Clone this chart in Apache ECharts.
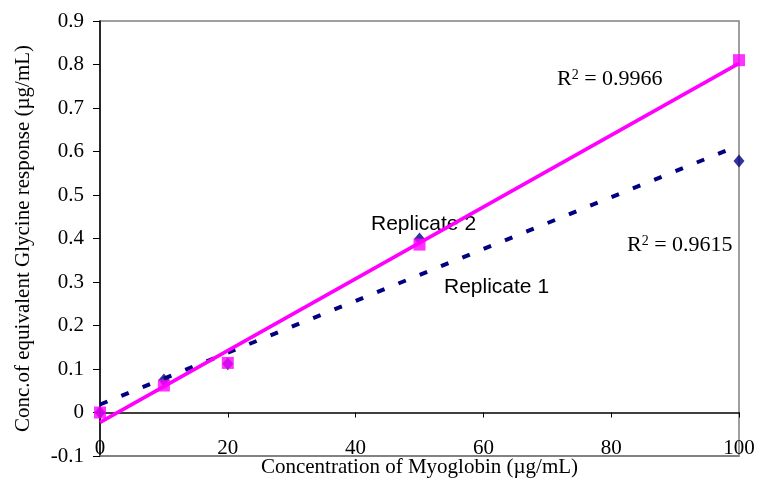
<!DOCTYPE html>
<html>
<head>
<meta charset="utf-8">
<script src="https://cdn.jsdelivr.net/npm/echarts@6/dist/echarts.min.js"></script>
<style>
  html, body { margin: 0; padding: 0; background: #fff; }
  #chart { width: 757px; height: 479px; }
</style>
</head>
<body>
<div id="chart"></div>
<script>
  // concentration of myoglobin (ug/mL)
  var concentrations = [0, 10, 20, 50, 100];
  // replicate responses (ug/mL glycine equivalent)
  var replicate1 = [0.0, 0.075, 0.112, 0.399, 0.578];
  var replicate2 = [0.0, 0.062, 0.114, 0.386, 0.810];
  var trendX = [0, 100];
  var yTicks = { min: -0.1, max: 0.9, step: 0.1 };
  var xTicks = { min: 0, max: 100, step: 20 };

  // least squares line, like the Excel trendline
  function fit(xs, ys) {
    var n = xs.length, mx = 0, my = 0;
    for (var i = 0; i < n; i++) { mx += xs[i]; my += ys[i]; }
    mx /= n; my /= n;
    var sxy = 0, sxx = 0;
    for (var j = 0; j < n; j++) {
      sxy += (xs[j] - mx) * (ys[j] - my);
      sxx += (xs[j] - mx) * (xs[j] - mx);
    }
    var slope = sxy / sxx;
    return { slope: slope, icpt: my - slope * mx };
  }
  function pairs(xs, ys) {
    return xs.map(function (x, i) { return [x, ys[i]]; });
  }
  function trend(xs, ys) {
    var f = fit(xs, ys);
    return trendX.map(function (x) { return [x, f.icpt + f.slope * x]; });
  }

  var serif = '"Liberation Serif", "Times New Roman", serif';
  var sans = '"Liberation Sans", Arial, sans-serif';
  var rSquared = {
    a: { fontFamily: serif, fontSize: 22, color: '#000' },
    s: { fontFamily: serif, fontSize: 14, color: '#000', verticalAlign: 'top' }
  };
  // only the lowest split line (the frame's bottom edge) is visible
  var frameColors = ['#808080'];
  for (var k = 1; k < 11; k++) frameColors.push('rgba(0,0,0,0)');

  var chart = echarts.init(document.getElementById('chart'));
  var option = {
    animation: false,
    backgroundColor: '#fff',
    grid: {
      left: 100, right: 18, top: 21, bottom: 23,
      outerBoundsMode: 'none',
      show: true, borderColor: '#808080', borderWidth: 1.5
    },
    xAxis: [{
      // labels and title sit low, like Excel's "low" label position
      type: 'value',
      position: 'bottom',
      min: xTicks.min, max: xTicks.max, interval: xTicks.step,
      name: 'Concentration of Myoglobin (\u00b5g/mL)',
      nameLocation: 'middle',
      nameGap: 1,
      nameMoveOverlap: false,
      nameTextStyle: { fontFamily: serif, fontSize: 21, color: '#000', verticalAlign: 'top' },
      axisLine: { show: true, onZero: false, lineStyle: { color: '#808080', width: 1.5 } },
      axisTick: { show: false },
      axisLabel: { inside: true, margin: -3, fontFamily: serif, fontSize: 21, color: '#000' },
      splitLine: { show: false }
    }, {
      // the zero line with its ticks
      type: 'value',
      position: 'bottom',
      min: xTicks.min, max: xTicks.max, interval: xTicks.step,
      axisLine: { show: true, onZero: true, onZeroAxisIndex: 0, lineStyle: { color: '#000', width: 1.5 } },
      axisTick: { show: true, length: 5, lineStyle: { color: '#000' } },
      axisLabel: { show: false },
      splitLine: { show: false }
    }],
    yAxis: {
      type: 'value',
      min: yTicks.min, max: yTicks.max, interval: yTicks.step,
      name: 'Conc.of equivalent Glycine response (\u00b5g/mL)',
      nameLocation: 'middle',
      nameGap: 66,
      nameTextStyle: { fontFamily: serif, fontSize: 21, color: '#000' },
      axisLine: { show: true, onZero: false, lineStyle: { color: '#000', width: 1.5 } },
      axisTick: { show: true, length: 7, lineStyle: { color: '#000' } },
      axisLabel: { margin: 16, fontFamily: serif, fontSize: 21, color: '#000' },
      splitLine: { show: true, showMinLine: true, lineStyle: { color: frameColors, width: 1.5 } }
    },
    graphic: [
      { type: 'text', left: 557, top: 68, style: { text: '{a|R}{s|2}{a| = 0.9966}', rich: rSquared } },
      { type: 'text', left: 627, top: 234, style: { text: '{a|R}{s|2}{a| = 0.9615}', rich: rSquared } },
      { type: 'text', left: 371, top: 214, style: { text: 'Replicate 2', font: '21px ' + sans, fill: '#000' } },
      { type: 'text', left: 444, top: 277, style: { text: 'Replicate 1', font: '21px ' + sans, fill: '#000' } }
    ],
    series: [
      {
        name: 'Replicate 1',
        type: 'scatter',
        data: pairs(concentrations, replicate1),
        symbol: 'diamond',
        symbolSize: [11, 13],
        itemStyle: { color: '#000080' },
        z: 2
      },
      {
        name: 'Replicate 2',
        type: 'scatter',
        data: pairs(concentrations, replicate2),
        symbol: 'rect',
        symbolSize: 12,
        itemStyle: { color: '#ff00ff' },
        z: 3
      },
      {
        name: 'Trend 1',
        type: 'line',
        data: trend(concentrations, replicate1),
        showSymbol: false,
        lineStyle: { color: '#000080', width: 4, type: [8, 15] },
        z: 4
      },
      {
        name: 'Trend 2',
        type: 'line',
        data: trend(concentrations, replicate2),
        showSymbol: false,
        lineStyle: { color: '#ff00ff', width: 3.5 },
        z: 5
      }
    ]
  };
  chart.setOption(option);
</script>
</body>
</html>
